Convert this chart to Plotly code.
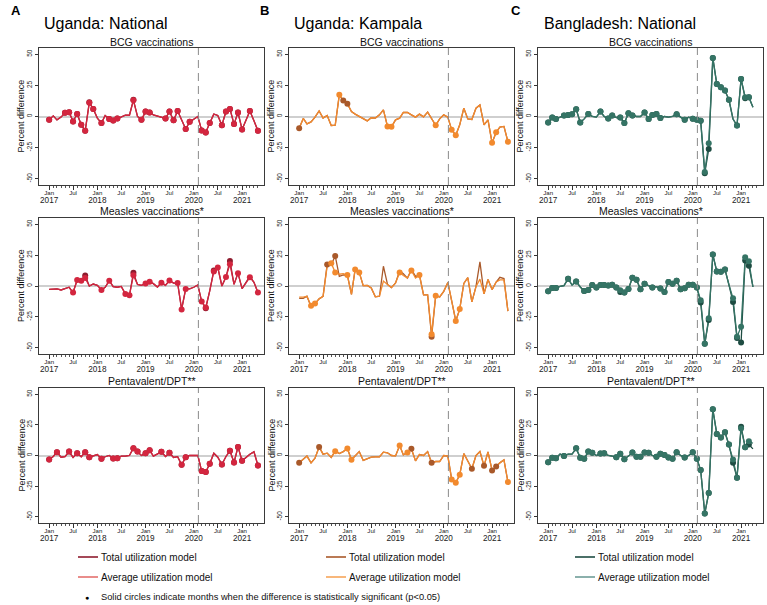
import pandas as pd
import plotly.graph_objects as go

W, H = 767, 605

# ---------------- data ----------------
months_ug = pd.date_range("2017-01-01", "2021-05-01", freq="MS")   # Uganda: 53 months
months_bd = pd.date_range("2017-01-01", "2021-04-01", freq="MS")   # Bangladesh: 52 months

col_letters = ["A", "B", "C"]
col_titles = ["Uganda: National", "Uganda: Kampala", "Bangladesh: National"]
row_titles = ["BCG vaccinations", "Measles vaccinations*", "Pentavalent/DPT**"]
y_title = "Percent difference"
legend_labels = ["Total utilization model", "Average utilization model"]
note_text = "Solid circles indicate months when the difference is statistically significant (p<0.05)"

tick_dates = ["2017-01-01", "2017-07-01", "2018-01-01", "2018-07-01", "2019-01-01",
              "2019-07-01", "2020-01-01", "2020-07-01", "2021-01-01"]
tick_month = ["Jan", "Jul", "Jan", "Jul", "Jan", "Jul", "Jan", "Jul", "Jan"]
tick_year = ["2017", "", "2018", "", "2019", "", "2020", "", "2021"]
y_ticks = [-50, -25, 0, 25, 50]
covid_start = "2020-02-05"

# Uganda national
ugn_bcg_total = [-2.7, 0.5, -2.7, -0.5, 3, 3.5, -4, 2, -6.7, -11.5, 11.5, 6, -1.3, -5.3, 0.8, -2, -3.2, -1.6,
                 -0.5, 1, 1, 13.4, 0, -2.7, 4, 3.2, 1.3, 0.5, -0.5, -1.6, 4, -3, 4.5, -2.7, -10, -4.3, -2, 0,
                 -11.2, -12.8, -5.3, 1.9, 0.8, -7, 4, 6.1, -6.1, 3.2, -10.4, -3, 4.5, -3.5, -11.5]
ugn_bcg_avg = [-2.7, 0.5, -2.7, -0.5, 3, 3.5, -4, 2, -6.7, -11.5, 11.0, 6, -1.3, -5.3, 0.8, -2, -3.2, -1.6,
               -0.5, 1, 1, 13.0, 0, -2.7, 4, 3.2, 1.3, 0.5, -0.5, -1.6, 4, -3, 4.5, -2.7, -10, -4.3, -2, 0,
               -11.2, -12.8, -5.3, 1.9, 0.8, -7, 4, 6.1, -6.1, 3.2, -10.4, -3, 4.5, -3.5, -11.5]
ugn_bcg_sig_total = [0, 4, 5, 6, 7, 8, 9, 10, 11, 13, 15, 16, 17, 21, 23, 24, 25, 29, 30, 31, 32, 34, 35,
                     38, 39, 40, 43, 44, 45, 46, 47, 48, 50, 52]
ugn_bcg_sig_avg = [0, 4, 5, 6, 7, 8, 9, 10, 11, 13, 15, 16, 17, 21, 23, 24, 25, 29, 30, 31, 32, 34, 35,
                   38, 39, 40, 43, 44, 45, 46, 47, 48, 50, 52]

ugn_mea_total = [-2.7, -2.4, -2.4, -3.2, -2.4, -1, -5.3, 4.8, 4.3, 8.5, 0, 1.6, 0.5, -3.2, -1, 4.3, -0.5, -1,
                 -0.3, -6.4, -7.5, 10.7, 1.3, 0.5, 2.1, 3.5, 1.9, -0.8, 2.7, 0.5, 4.5, 2.4, 2.4, -19, -2.4,
                 -2.4, -1, 0.8, -12.6, -18, -4, 12.6, 15, 0, 7.2, 20.3, 1.3, 10.4, -2.1, 3, 8, 3, -5.3]
ugn_mea_avg = [-2.7, -2.4, -2.4, -3.2, -2.4, -1, -5.3, 4.8, 4.3, 6.4, 0, 1.6, 0.5, -3.2, -1, 4.3, -0.5, -1,
               -0.3, -6.4, -7.5, 8.6, 1.3, 0.5, 2.1, 3.5, 1.9, -0.8, 2.7, 0.5, 4.5, 2.4, 2.4, -19, -2.4,
               -2.4, -1, 0.8, -12.6, -17.3, -4, 11.8, 15, 0, 7.2, 17.6, 1.3, 10.4, -2.1, 3, 7, 3, -5.3]
ugn_mea_sig_total = [9, 21, 39, 41, 45]
ugn_mea_sig_avg = [6, 7, 8, 9, 13, 15, 19, 20, 21, 24, 25, 28, 30, 32, 33, 34, 38, 39, 41, 42, 44, 45, 47, 50, 52]

ugn_pen_total = [-3.2, -0.8, 2.7, -1.4, -1, 3.2, -1.6, 1.9, -1, 2.7, -1.4, 0, 0.8, -2.7, -1, 0, -2.4, -2.2,
                 -0.5, -0.5, 0, 6, 3.2, 0, 1.9, 4.3, -0.5, 1, 3, -0.8, 2.2, -1.6, -1, -7.6, -1.4, 0, 0.3, 0,
                 -12.7, -13.5, -6.8, 1.9, -1.4, -7.3, -0.8, 3.8, -5.7, 7, -4.3, -1.4, 1, 3, -8.1]
ugn_pen_avg = list(ugn_pen_total)
ugn_pen_sig_total = [0, 2, 5, 7, 9, 10, 13, 16, 17, 21, 22, 24, 25, 28, 30, 33, 34, 38, 39, 40, 43, 45, 46,
                     47, 48, 52]
ugn_pen_sig_avg = list(ugn_pen_sig_total)

# Uganda Kampala
ugk_bcg_total = [-9.4, -1.6, -5.9, -4.3, -0.5, 4.5, -1.3, 0.8, -7.2, -7, 17.4, 12.8, 10.2, 4, 1.9, 0, -1.6,
                 -3.5, -1, -1.3, 1.3, 5.3, -8, -8.3, -2.7, -1.3, 3.2, 3.2, 1.3, -0.5, 1.9, -0.3, 3.5, -1.3, -7,
                 -1.9, 1.3, -0.5, -10.7, -15, -6.7, 6.7, -1.9, -2.4, 6.7, 9.3, -6.7, -2.7, -21.1, -12.6, -8.5,
                 -8, -20.3]
ugk_bcg_avg = list(ugk_bcg_total)
ugk_bcg_sig_total = [0, 11, 12]
ugk_bcg_sig_avg = [10, 22, 23, 34, 38, 39, 48, 49, 52]

ugk_mea_total = [-10, -10, -8.3, -16.8, -14.2, -10.4, -8.3, 17.4, 17.4, 24.3, 7.8, 9, 8.8, -6.7, 13.4, 11,
                 0.3, 0.5, -1.6, -8.8, -8.3, 16, 1.3, -1.3, 2.4, 12.3, 9.9, 6.4, 13.4, 7.8, 8.8, -7.2, -7.2,
                 -41, -7.8, -8.8, -4.3, 2.9, -12, -28.3, -18.7, 2.1, 6.7, -12.8, -0.5, 19.5, -6.4, 5.3, -2.9,
                 3.2, 7, 6, -20.3]
ugk_mea_avg = [-9, -9, -8.3, -16, -14.2, -10.4, -8.3, 16, 18.5, 11, 9.5, 10, 8.8, -6.7, 13.4, 11, 0.3, 0.5,
               -1.6, -8.8, -8.3, 4, 1.3, -1.3, 2.4, 11, 8.5, 6.4, 12.5, 6.5, 8.8, -7.2, -7.2, -39, -7.8, -8.8,
               -4.3, 2.9, -12, -28.3, -18.7, 2.1, 6.7, -12.8, -0.5, 5.6, -6.4, 5.3, -2.9, 3.2, 5, 5, -20.3]
ugk_mea_sig_total = [7, 9, 33]
ugk_mea_sig_avg = [3, 4, 8, 9, 12, 14, 15, 25, 28, 30, 33, 34, 39, 40]

ugk_pen_total = [-6, -3.2, -0.5, -6, -2.2, 7, 1.1, 1.9, -1.6, 3.5, 1.6, 3.2, 5.7, -3.5, 0, 3.2, -4, -2.7,
                 -1.4, -1.1, -1.1, 2.7, 2.2, 0, -0.3, 8.1, 0.5, 2.4, 5.4, -4.3, 0.8, 0, 3.2, -6, -4.9, -4.9, 0,
                 -0.5, -19.5, -22.2, -15.7, 1.6, -4.3, -10.8, 0, 3.2, -8.4, 3, -12.2, -8.9, -6, -3.5, -21.6]
ugk_pen_avg = list(ugk_pen_total)
ugk_pen_sig_total = [0, 5, 28, 33, 43, 46, 48, 49]
ugk_pen_sig_avg = [9, 12, 13, 25, 27, 38, 39, 40, 52]

# Bangladesh national
bdn_bcg_total = [-4.8, -0.8, -2.1, -0.5, 0.8, 1.3, 1.9, 5.9, -4.8, -1.9, 2.1, 0, -0.5, 4, 0, -1.6, 0.8, -0.8,
                 -0.8, -5.3, 2.7, 0.8, 0, 0, 3.2, -2.1, 1.3, 2.1, -1.3, 0, -0.5, 0, 1.9, -0.5, -2.7, -0.5,
                 -1.9, -2.7, -3.5, -45.5, -26, 47, 26, 23.5, 20.8, 13.4, -2.1, -7.2, 30.2, 14.7, 15.5, 7.5]
bdn_bcg_avg = [-4.8, -0.8, -2.1, -0.5, 0.8, 1.3, 1.9, 5.9, -4.8, -1.9, 2.1, 0, -0.5, 4, 0, -1.6, 0.8, -0.8,
               -0.8, -5.3, 2.7, 0.8, 0, 0, 3.2, -2.1, 1.3, 2.1, -1.3, 0, -0.5, 0, 1.9, -0.5, -2.7, -0.5,
               -1.9, -2.7, -3.5, -44.5, -21.4, 47, 26, 23.5, 20.8, 13.4, -2.1, -7.2, 30.2, 15.5, 15.5, 7.5]
bdn_bcg_sig_total = [0, 1, 2, 4, 5, 6, 7, 8, 10, 13, 15, 16, 18, 19, 20, 21, 24, 25, 26, 27, 28, 32, 34, 36,
                     37, 38, 39, 40, 41, 42, 43, 44, 45, 47, 48, 49, 50]
bdn_bcg_sig_avg = list(bdn_bcg_sig_total)

bdn_mea_total = [-4.3, -1.6, -1.6, -0.3, 0.3, 5.9, 0.8, 3.7, -0.8, -4, -3.2, 0.8, -1.3, 0.8, 0.8, 0.5, 1.1,
                 -1.3, -4.8, -5.3, -2.4, 6.7, 5.1, -2.7, 1.9, 0, -1.3, -0.5, -2.1, -4.8, 3.2, 1.9, 4.3, -2.7,
                 -1.9, 1.1, 1.1, -1.3, -13.4, -46.8, -27.5, 25.4, 11.8, 11.5, 13.4, 1, -13, -42, -45.7, 20.6,
                 16.3, -0.8]
bdn_mea_avg = [-4.3, -1.6, -1.6, -0.3, 0.3, 5.9, 0.8, 3.7, -0.8, -4, -3.2, 0.8, -1.3, 0.8, 0.8, 0.5, 1.1,
               -1.3, -3.5, -5.3, -2.4, 6.7, 5.1, -2.7, 1.9, 0, -1.3, -0.5, -2.1, -4.8, 3.2, 1.9, 4.3, -2.7,
               -1.9, 1.1, 1.1, -1.3, -11.5, -46.8, -26, 25.4, 11.8, 11.5, 13.4, 1, -10, -41, -33, 23.3, 20,
               -0.8]
bdn_mea_sig_total = [0, 1, 2, 5, 7, 9, 10, 11, 12, 13, 14, 15, 16, 17, 18, 19, 20, 21, 22, 23, 24, 26, 28, 29,
                     30, 31, 32, 33, 34, 35, 36, 37, 38, 39, 40, 41, 42, 43, 44, 46, 47, 48, 49, 50]
bdn_mea_sig_avg = list(bdn_mea_sig_total)

bdn_pen_total = [-5.4, -1.9, -2.2, 1.1, -0.5, 1.1, 1.1, 5.9, -1.9, -2.7, 3.2, 2.2, 0, 1.6, 1.9, 0, -0.5, -1.4,
                 1.4, -3, -0.5, 2.4, -1.1, -1.1, 2.4, 2.2, 0, -1.1, 1.4, 0.5, -1.6, -2.7, 2.7, 0, -1.6, 0, 2.7,
                 -2.7, -11.9, -47.3, -30.5, 37.6, 17.6, 14.6, 18.9, 8.9, -6, -18.1, 23.5, 6.8, 8.9, 5.4]
bdn_pen_avg = [-5.4, -1.9, -2.2, 1.1, -0.5, 1.1, 1.1, 5.9, -1.9, -2.7, 3.2, 2.2, 0, 1.6, 1.9, 0, -0.5, -1.4,
               1.4, -3, -0.5, 2.4, -1.1, -1.1, 2.4, 2.2, 0, -1.1, 1.4, 0.5, -1.6, -2.7, 2.7, 0, -1.6, 0, 2.7,
               -2.7, -11.9, -47.3, -30.5, 37.6, 17.6, 14.6, 18.9, 8.9, -3.2, -18.1, 22, 6.8, 11.6, 10]
bdn_pen_sig_total = [0, 1, 2, 4, 7, 8, 9, 10, 11, 13, 14, 17, 18, 19, 21, 22, 23, 24, 25, 27, 28, 29, 30, 31,
                     32, 34, 36, 37, 38, 39, 40, 41, 42, 43, 44, 45, 46, 47, 48, 49, 50]
bdn_pen_sig_avg = list(bdn_pen_sig_total)

# ---------------- styling / layout ----------------
col_months = [months_ug, months_ug, months_bd]
col_colors = [("#8E1B2E", "#D3263F"), ("#A9592A", "#F28A2E"), ("#1E4C42", "#357465")]
legend_colors = [("#8E1B2E", "#E4706E"), ("#A9592A", "#F6A55A"), ("#1E4C42", "#6E9C97")]
panels = [
    [(ugn_bcg_total, ugn_bcg_avg, ugn_bcg_sig_total, ugn_bcg_sig_avg),
     (ugk_bcg_total, ugk_bcg_avg, ugk_bcg_sig_total, ugk_bcg_sig_avg),
     (bdn_bcg_total, bdn_bcg_avg, bdn_bcg_sig_total, bdn_bcg_sig_avg)],
    [(ugn_mea_total, ugn_mea_avg, ugn_mea_sig_total, ugn_mea_sig_avg),
     (ugk_mea_total, ugk_mea_avg, ugk_mea_sig_total, ugk_mea_sig_avg),
     (bdn_mea_total, bdn_mea_avg, bdn_mea_sig_total, bdn_mea_sig_avg)],
    [(ugn_pen_total, ugn_pen_avg, ugn_pen_sig_total, ugn_pen_sig_avg),
     (ugk_pen_total, ugk_pen_avg, ugk_pen_sig_total, ugk_pen_sig_avg),
     (bdn_pen_total, bdn_pen_avg, bdn_pen_sig_total, bdn_pen_sig_avg)],
]

# positions below are in page pixels (reference image coordinates)
col_px = [(39, 264), (289, 514), (538, 763)]
row_px = [(48, 185), (218, 354), (388, 523)]
row_title_y = [41.5, 211, 381]
letter_x = [9, 258, 509]
title_x = [42, 292, 542]

FONT = "Liberation Sans, Arial, Helvetica, sans-serif"
px = lambda p: p / W
py = lambda p: 1 - p / H

fig = go.Figure()
layout = dict(width=W, height=H, margin=dict(l=0, r=0, t=0, b=0),
              paper_bgcolor="white", plot_bgcolor="white", showlegend=False,
              font=dict(family=FONT, color="#111"))
shapes, annotations = [], []

tick_text = [m if not y else f"{m}<br><span style='font-size:8.2px'>{y}</span>"
             for m, y in zip(tick_month, tick_year)]

for r in range(3):
    for c in range(3):
        n = r * 3 + c + 1
        sfx = "" if n == 1 else str(n)
        xa, ya = "x" + sfx, "y" + sfx
        months = col_months[c]
        tot, avg, sig_t, sig_a = panels[r][c]
        ctot, cavg = col_colors[c]
        fig.add_trace(go.Scatter(x=months, y=tot, mode="lines", line=dict(color=ctot, width=1.3),
                                 xaxis=xa, yaxis=ya, hoverinfo="skip"))
        fig.add_trace(go.Scatter(x=months, y=avg, mode="lines", line=dict(color=cavg, width=1.3),
                                 xaxis=xa, yaxis=ya, hoverinfo="skip"))
        fig.add_trace(go.Scatter(x=[months[i] for i in sig_t], y=[tot[i] for i in sig_t], mode="markers",
                                 marker=dict(color=ctot, size=6), xaxis=xa, yaxis=ya, hoverinfo="skip"))
        fig.add_trace(go.Scatter(x=[months[i] for i in sig_a], y=[avg[i] for i in sig_a], mode="markers",
                                 marker=dict(color=cavg, size=6), xaxis=xa, yaxis=ya, hoverinfo="skip"))

        x0, x1 = col_px[c]
        y0, y1 = row_px[r]
        layout["xaxis" + sfx] = dict(
            domain=[px(x0), px(x1)], anchor=ya, type="date",
            range=["2016-10-16", "2021-06-16"],
            tickmode="array", tickvals=tick_dates, ticktext=tick_text,
            tickfont=dict(size=6.1, color="#222"), tickangle=0, ticklabelstandoff=-2,
            ticks="outside", ticklen=3.5, tickcolor="#333", tickwidth=0.8,
            minor=dict(tickmode="array", tickvals=list(months_ug), ticks="outside", ticklen=2,
                       tickcolor="#555", tickwidth=0.6),
            showline=True, mirror=True, linecolor="#3a3a3a", linewidth=1,
            showgrid=False, zeroline=False, fixedrange=True)
        layout["yaxis" + sfx] = dict(
            domain=[py(y1), py(y0)], anchor=xa, range=[-55, 55],
            tickmode="array", tickvals=y_ticks, ticktext=[str(v) for v in y_ticks],
            tickangle=-90, tickfont=dict(size=6.5, color="#222"),
            ticks="outside", ticklen=3, tickcolor="#333", tickwidth=0.8,
            showline=True, mirror=True, linecolor="#3a3a3a", linewidth=1,
            showgrid=False, zeroline=True, zerolinecolor="#cfcfcf", zerolinewidth=1.6,
            fixedrange=True)
        shapes.append(dict(type="line", xref=xa, yref=f"{ya} domain", x0=covid_start, x1=covid_start,
                           y0=0, y1=1, line=dict(color="#8a8a8a", width=1, dash="8px,5px")))
        annotations.append(dict(text=row_titles[r], x=px((x0 + x1) / 2), y=py(row_title_y[r]),
                                xref="paper", yref="paper", xanchor="center", yanchor="middle",
                                showarrow=False, font=dict(size=10.5, color="#111")))
        annotations.append(dict(text=y_title, x=px(x0 - 18), y=py((y0 + y1) / 2), xref="paper",
                                yref="paper", xanchor="center", yanchor="middle", textangle=-90,
                                showarrow=False, font=dict(size=9, color="#111")))

for c in range(3):
    annotations.append(dict(text=f"<b>{col_letters[c]}</b>", x=px(letter_x[c]), y=py(10.5), xref="paper",
                            yref="paper", xanchor="left", yanchor="middle", showarrow=False,
                            font=dict(size=13, color="#000")))
    annotations.append(dict(text=col_titles[c], x=px(title_x[c]), y=py(23.5), xref="paper", yref="paper",
                            xanchor="left", yanchor="middle", showarrow=False,
                            font=dict(size=16, color="#000")))

# manual legends
leg_x = [78, 326, 575]
leg_y = [557, 577]
for c in range(3):
    for k in range(2):
        col = legend_colors[c][k]
        shapes.append(dict(type="line", xref="paper", yref="paper", x0=px(leg_x[c]), x1=px(leg_x[c] + 20),
                           y0=py(leg_y[k]), y1=py(leg_y[k]), line=dict(color=col, width=1.6)))
        annotations.append(dict(text=legend_labels[k], x=px(leg_x[c] + 21), y=py(leg_y[k]), xref="paper",
                                yref="paper", xanchor="left", yanchor="middle", showarrow=False,
                                font=dict(size=10, color="#111")))
annotations.append(dict(text="●", x=px(87), y=py(597), xref="paper", yref="paper", xanchor="center",
                        yanchor="middle", showarrow=False, font=dict(size=7, color="#000")))
annotations.append(dict(text=note_text, x=px(99), y=py(597), xref="paper", yref="paper", xanchor="left",
                        yanchor="middle", showarrow=False, font=dict(size=9.3, color="#111")))

layout["shapes"] = shapes
layout["annotations"] = annotations
fig.update_layout(**layout)
fig.write_html("out.html", config={"displayModeBar": False},
               post_script="document.body.style.margin='0';document.body.style.padding='0';")
